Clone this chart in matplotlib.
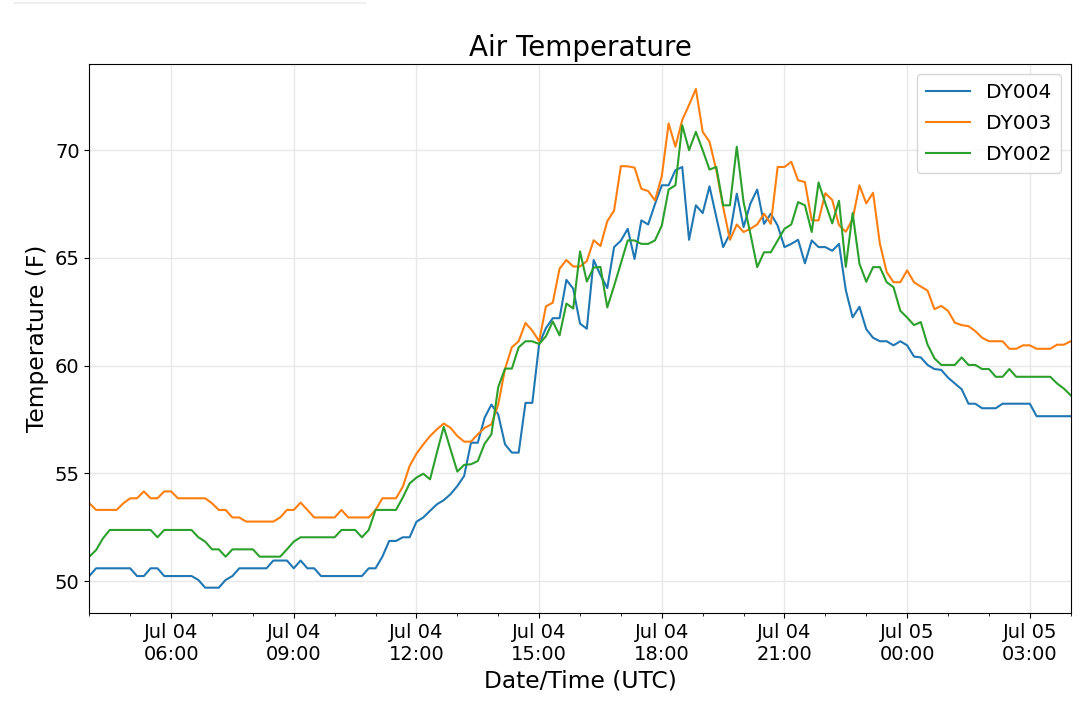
import numpy as np
import pandas as pd
import matplotlib
matplotlib.use("Agg")
import matplotlib.pyplot as plt
import matplotlib.dates as mdates
from matplotlib.lines import Line2D

# 10 minute readings, Jul 04 04:00 -> Jul 05 04:00 (UTC)
times = pd.date_range("2019-07-04 04:00", "2019-07-05 04:00", freq="10min")

dy004 = [50.23, 50.59, 50.59, 50.59, 50.59, 50.59, 50.59, 50.23, 50.23, 50.59,
         50.59, 50.23, 50.23, 50.23, 50.23, 50.23, 50.05, 49.69, 49.69, 49.69,
         50.05, 50.23, 50.59, 50.59, 50.59, 50.59, 50.59, 50.95, 50.95, 50.95,
         50.59, 50.95, 50.59, 50.59, 50.23, 50.23, 50.23, 50.23, 50.23, 50.23,
         50.23, 50.59, 50.59, 51.13, 51.86, 51.86, 52.03, 52.03, 52.75, 52.95,
         53.26, 53.56, 53.75, 54.03, 54.41, 54.88, 56.42, 56.42, 57.58, 58.19,
         57.73, 56.34, 55.96, 55.96, 58.27, 58.27, 61.0, 61.74, 62.2, 62.2,
         63.98, 63.57, 61.95, 61.71, 64.9, 64.2, 63.6, 65.5, 65.8, 66.35,
         64.95, 66.74, 66.55, 67.5, 68.37, 68.37, 69.07, 69.22, 65.84, 67.44,
         67.08, 68.32, 66.89, 65.5, 66.12, 67.98, 66.43, 67.52, 68.17, 66.58,
         67.05, 66.5, 65.5, 65.65, 65.84, 64.75, 65.81, 65.5, 65.5, 65.33,
         65.65, 63.5, 62.24, 62.73, 61.69, 61.29, 61.13, 61.13, 60.94, 61.13,
         60.94, 60.42, 60.38, 60.03, 59.84, 59.8, 59.44, 59.17, 58.9, 58.23,
         58.23, 58.02, 58.02, 58.02, 58.23, 58.23, 58.23, 58.23, 58.23, 57.65,
         57.65, 57.65, 57.65, 57.65, 57.65]

dy003 = [53.61, 53.30, 53.30, 53.30, 53.30, 53.61, 53.84, 53.84, 54.16, 53.84,
         53.84, 54.16, 54.16, 53.84, 53.84, 53.84, 53.84, 53.84, 53.61, 53.30,
         53.30, 52.95, 52.95, 52.76, 52.76, 52.76, 52.76, 52.76, 52.95, 53.30,
         53.30, 53.64, 53.30, 52.95, 52.95, 52.95, 52.95, 53.30, 52.95, 52.95,
         52.95, 52.95, 53.30, 53.84, 53.84, 53.84, 54.38, 55.34, 55.91, 56.34,
         56.73, 57.04, 57.31, 57.11, 56.73, 56.47, 56.47, 56.81, 57.11, 57.27,
         58.2, 59.85, 60.85, 61.13, 61.98, 61.62, 61.13, 62.75, 62.92, 64.5,
         64.9, 64.6, 64.6, 64.85, 65.82, 65.55, 66.7, 67.2, 69.26, 69.25,
         69.19, 68.21, 68.1, 67.67, 68.8, 71.24, 70.16, 71.4, 72.1, 72.84,
         70.85, 70.39, 69.07, 67.36, 65.84, 66.55, 66.2, 66.35, 66.55, 67.05,
         66.58, 69.22, 69.22, 69.46, 68.6, 68.52, 66.74, 66.74, 68.0, 67.69,
         66.52, 66.21, 66.8, 68.37, 67.53, 68.02, 65.66, 64.34, 63.87, 63.87,
         64.42, 63.87, 63.67, 63.48, 62.62, 62.77, 62.54, 61.99, 61.88, 61.83,
         61.6, 61.29, 61.13, 61.13, 61.13, 60.78, 60.78, 60.94, 60.94, 60.78,
         60.78, 60.78, 60.97, 60.97, 61.13]

dy002 = [51.13, 51.44, 51.98, 52.37, 52.37, 52.37, 52.37, 52.37, 52.37, 52.37,
         52.03, 52.37, 52.37, 52.37, 52.37, 52.37, 52.03, 51.83, 51.47, 51.47,
         51.13, 51.47, 51.47, 51.47, 51.47, 51.13, 51.13, 51.13, 51.13, 51.47,
         51.83, 52.03, 52.03, 52.03, 52.03, 52.03, 52.03, 52.37, 52.37, 52.37,
         52.03, 52.37, 53.30, 53.30, 53.30, 53.30, 53.88, 54.53, 54.8, 54.98,
         54.72, 55.96, 57.16, 56.11, 55.08, 55.39, 55.42, 55.57, 56.37, 56.81,
         59.0, 59.86, 59.86, 60.85, 61.13, 61.13, 61.0, 61.36, 62.05, 61.4,
         62.88, 62.65, 65.3, 63.9, 64.55, 64.58, 62.7, 63.7, 64.75, 65.81,
         65.81, 65.65, 65.65, 65.81, 66.5, 68.17, 68.37, 71.16, 70.0, 70.85,
         70.0, 69.1, 69.22, 67.44, 67.44, 70.16, 67.59, 66.12, 64.57, 65.26,
         65.26, 65.81, 66.35, 66.55, 67.59, 67.44, 66.2, 68.5, 67.53, 66.6,
         67.65, 64.58, 67.08, 64.73, 63.89, 64.57, 64.57, 63.87, 63.64, 62.54,
         62.23, 61.88, 62.02, 60.97, 60.34, 60.03, 60.03, 60.03, 60.38, 60.03,
         60.03, 59.84, 59.84, 59.48, 59.48, 59.84, 59.48, 59.48, 59.48, 59.48,
         59.48, 59.48, 59.17, 58.93, 58.62]

series = [("DY004", dy004), ("DY003", dy003), ("DY002", dy002)]

fig = plt.figure(figsize=(10.8, 7.04), dpi=100)
ax = fig.add_axes([0.0827, 0.1288, 0.9087, 0.7803])

for name, vals in series:
    ax.plot(times, vals, lw=1.5, label=name)

ax.set_xlim(times[0], times[-1])
ax.set_ylim(48.5, 74.0)
ax.set_yticks([50, 55, 60, 65, 70])

ax.xaxis.set_major_locator(mdates.HourLocator(byhour=range(0, 24, 3)))
ax.xaxis.set_minor_locator(mdates.HourLocator())
ax.xaxis.set_major_formatter(mdates.DateFormatter("%b %d\n%H:%M"))
ax.tick_params(axis="both", which="major", labelsize=14)

ax.grid(True, which="major", color="#e8e8e8", lw=1)
ax.set_axisbelow(True)

ax.set_title("Air Temperature", fontsize=20)
ax.set_xlabel("Date/Time (UTC)", fontsize=16.8)
ax.set_ylabel("Temperature (F)", fontsize=16.8)
ax.legend(loc="upper right", fontsize=14.5, labelspacing=0.6,
          handlelength=2.2, borderpad=0.45)

# faint strip left at the top of the screenshot
fig.add_artist(Line2D([15 / 1080, 365 / 1080], [1 - 3 / 704, 1 - 3 / 704],
                      color="#efefef", lw=1.5))

fig.savefig("out.png", dpi=100)
